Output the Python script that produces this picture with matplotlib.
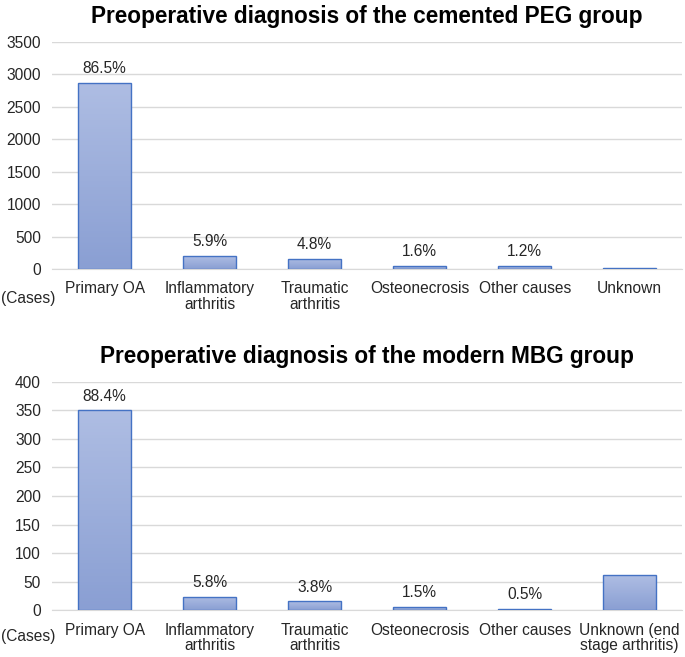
import numpy as np
import matplotlib.pyplot as plt
from matplotlib.colors import LinearSegmentedColormap

plt.rcParams['font.family'] = ['Liberation Sans', 'DejaVu Sans']

# --- Data ---
peg_labels = ["Primary OA", "Inflammatory\narthritis", "Traumatic\narthritis",
              "Osteonecrosis", "Other causes", "Unknown"]
peg_cases = [2872, 196, 159, 53, 40, 8]
peg_pct = ["86.5%", "5.9%", "4.8%", "1.6%", "1.2%", ""]
peg_ticks = [0, 500, 1000, 1500, 2000, 2500, 3000, 3500]

mbg_labels = ["Primary OA", "Inflammatory\narthritis", "Traumatic\narthritis",
              "Osteonecrosis", "Other causes", "Unknown (end\nstage arthritis)"]
mbg_cases = [350, 23, 15, 6, 2, 61]
mbg_pct = ["88.4%", "5.8%", "3.8%", "1.5%", "0.5%", ""]
mbg_ticks = [0, 50, 100, 150, 200, 250, 300, 350, 400]

grad = LinearSegmentedColormap.from_list("g", ["#8a9fd3", "#aebde3"])
FS = 11.2


def draw(ax, labels, cases, pct, ticks, title):
    x = np.arange(len(labels))
    bars = ax.bar(x, cases, width=0.5, color="none", edgecolor="#4472c4",
                  linewidth=1.0, zorder=3)
    # vertical gradient fill clipped to each bar
    for b in bars:
        x0, y0 = b.get_x(), b.get_y()
        w, h = b.get_width(), b.get_height()
        im = ax.imshow(np.linspace(0, 1, 64).reshape(-1, 1), cmap=grad,
                       extent=[x0, x0 + w, y0, y0 + h], origin="lower",
                       aspect="auto", zorder=2)
        im.set_clip_path(b)
    for xi, v, p in zip(x, cases, pct):
        if p:
            ax.annotate(p, xy=(xi, v), xytext=(0, 5), textcoords="offset points",
                        ha="center", va="bottom", fontsize=FS, color="#262626")
    ax.set_xlim(-0.5, len(labels) - 0.5)
    ax.set_ylim(ticks[0], ticks[-1])
    ax.set_yticks(ticks)
    ax.set_xticks(x)
    ax.set_xticklabels(labels, fontsize=FS, color="#262626", linespacing=1.05)
    ax.tick_params(axis="y", labelsize=FS, colors="#262626", length=0, pad=8)
    ax.tick_params(axis="x", length=0, pad=9)
    ax.grid(axis="y", color="#d9d9d9", linewidth=1, zorder=0)
    ax.set_axisbelow(True)
    for s in ["top", "right", "left"]:
        ax.spines[s].set_visible(False)
    ax.spines["bottom"].set_color("#d9d9d9")
    ax.set_title(title, fontsize=16.3, fontweight="bold", pad=14)


fig = plt.figure(figsize=(6.85, 6.57), dpi=100)
ax1 = fig.add_axes([0.076, 0.5906, 0.92, 0.3455])
ax2 = fig.add_axes([0.076, 0.0715, 0.92, 0.3471])

draw(ax1, peg_labels, peg_cases, peg_pct, peg_ticks,
     "Preoperative diagnosis of the cemented PEG group")
draw(ax2, mbg_labels, mbg_cases, mbg_pct, mbg_ticks,
     "Preoperative diagnosis of the modern MBG group")

fig.text(0.002, 1 - 299 / 657, "(Cases)", fontsize=FS, color="#262626",
         ha="left", va="center")
fig.text(0.002, 1 - 637 / 657, "(Cases)", fontsize=FS, color="#262626",
         ha="left", va="center")

fig.savefig("out.png", dpi=100)
